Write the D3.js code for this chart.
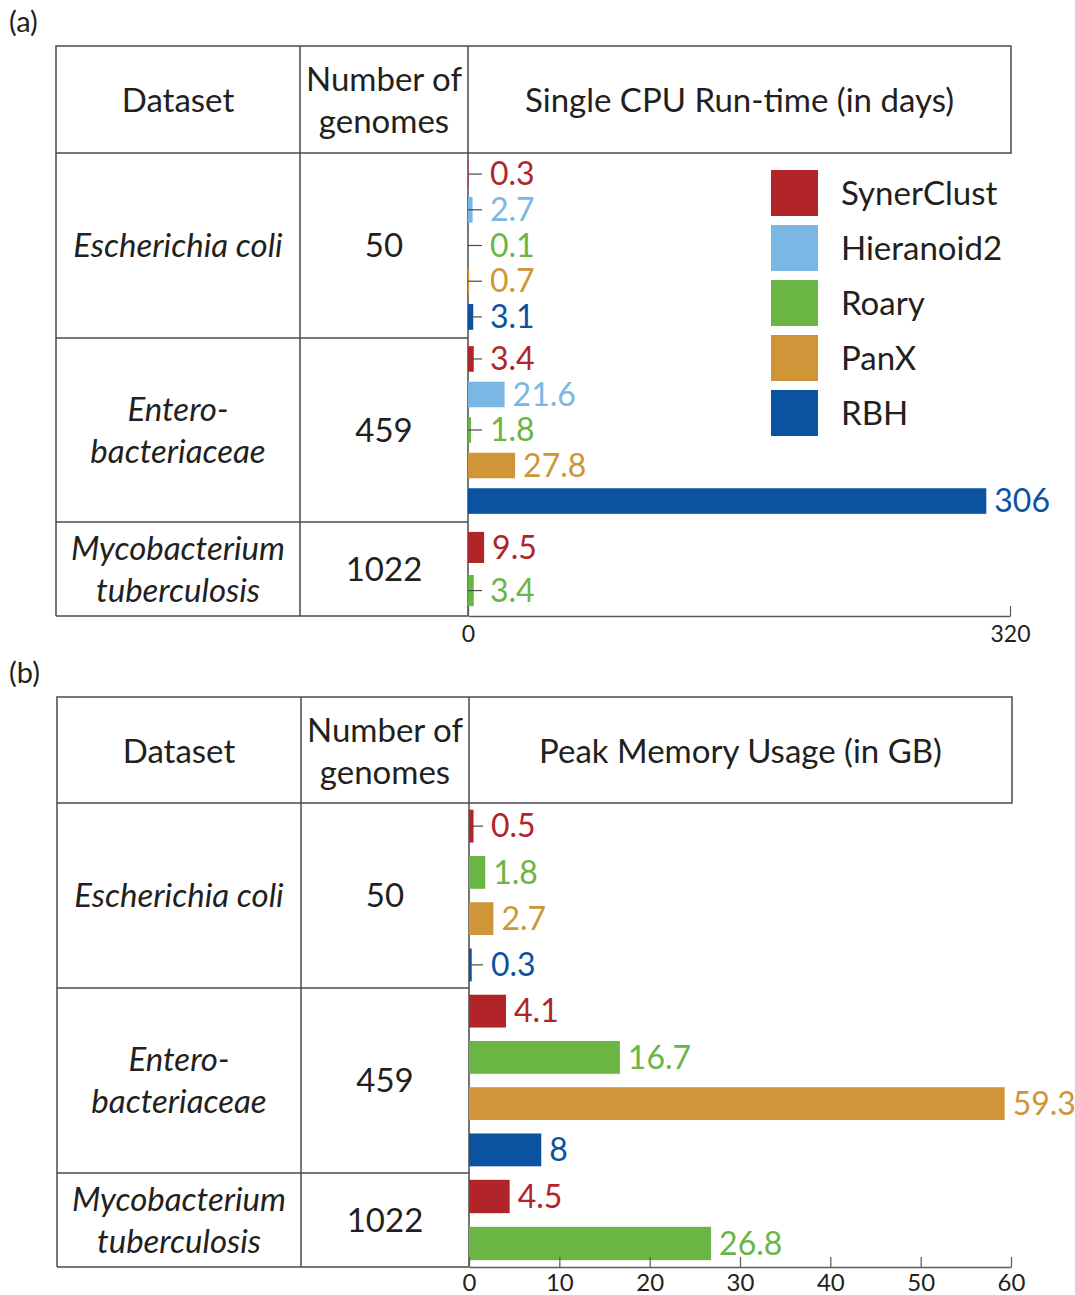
<!DOCTYPE html>
<html>
<head>
<meta charset="utf-8">
<script src="https://cdn.jsdelivr.net/npm/d3@7"></script>
<style>
  body { margin: 0; background: #fff; }
  svg text { font-family: "Lato", "Open Sans", sans-serif; fill: #231f20; }
</style>
</head>
<body>
<div id="chart"></div>
<script>
// data
var series = ["SynerClust", "Hieranoid2", "Roary", "PanX", "RBH"];
var seriesColors = ["#b12427", "#7ab7e4", "#6bb545", "#d09538", "#0b52a0"];
var datasetLines = [["Escherichia coli"], ["Entero-", "bacteriaceae"], ["Mycobacterium", "tuberculosis"]];
var genomes = [50, 459, 1022];

// per dataset, in series order (null = not run)
var runtimeDays = [
    [0.3, 2.7, 0.1, 0.7, 3.1],
    [3.4, 21.6, 1.8, 27.8, 306],
    [9.5, null, 3.4, null, null]
];
var peakMemoryGB = [
    [0.5, null, 1.8, 2.7, 0.3],
    [4.1, null, 16.7, 59.3, 8],
    [4.5, null, 26.8, null, null]
];
var runtimeTicks = [0, 320];
var memoryTicks = [0, 10, 20, 30, 40, 50, 60];

var svg = d3.select("#chart").append("svg")
    .attr("width", 1075)
    .attr("height", 1295);

var lineColor = "#4a4a4a";
var bigFont = "33px";

function drawPanel(opts) {
    var g = svg.append("g").attr("class", "panel");
    var top = opts.top, left = opts.left, c1 = opts.c1, c2 = opts.c2, right = opts.right;
    var headerBottom = top + opts.headerH;

    // row boundaries
    var rowEdges = [headerBottom];
    opts.rowH.forEach(function(h) { rowEdges.push(rowEdges[rowEdges.length - 1] + h) });
    var bottom = rowEdges[rowEdges.length - 1];

    var x = d3.scaleLinear().domain(opts.domain).range([c2, opts.xEnd]);

    // panel letter
    g.append("text").attr("x", 9).attr("y", top - 14)
        .style("font-size", "29px").text(opts.letter);

    // header box
    g.append("rect").attr("x", left).attr("y", top)
        .attr("width", right - left).attr("height", opts.headerH)
        .attr("fill", "none").attr("stroke", lineColor).attr("stroke-width", 1.5);

    // table lines
    var lines = [
        [left, headerBottom, left, bottom],
        [c1, top, c1, bottom],
        [c2, top, c2, bottom],
        [left, bottom, c2, bottom]
    ];
    rowEdges.slice(1, -1).forEach(function(y) { lines.push([left, y, c2, y]) });
    g.selectAll("line.grid").data(lines).enter().append("line")
        .attr("class", "grid")
        .attr("x1", function(d) { return d[0] }).attr("y1", function(d) { return d[1] })
        .attr("x2", function(d) { return d[2] }).attr("y2", function(d) { return d[3] })
        .attr("stroke", lineColor).attr("stroke-width", 1.5);

    // header texts
    var hy = top + opts.headerH / 2 + 1;
    g.append("text").attr("x", (left + c1) / 2).attr("y", hy).attr("dy", "0.35em")
        .attr("text-anchor", "middle").style("font-size", bigFont).text("Dataset");
    g.append("text").attr("x", (c1 + c2) / 2).attr("y", hy - 21).attr("dy", "0.35em")
        .attr("text-anchor", "middle").style("font-size", bigFont).text("Number of");
    g.append("text").attr("x", (c1 + c2) / 2).attr("y", hy + 21).attr("dy", "0.35em")
        .attr("text-anchor", "middle").style("font-size", bigFont).text("genomes");
    g.append("text").attr("x", (c2 + right) / 2).attr("y", hy).attr("dy", "0.35em")
        .attr("text-anchor", "middle").style("font-size", bigFont).text(opts.title);

    // rows
    opts.values.forEach(function(vals, i) {
        var y0 = rowEdges[i], y1 = rowEdges[i + 1], cy = (y0 + y1) / 2;
        var names = datasetLines[i];
        names.forEach(function(t, k) {
            g.append("text").attr("x", (left + c1) / 2)
                .attr("y", cy + (k - (names.length - 1) / 2) * 42).attr("dy", "0.35em")
                .attr("text-anchor", "middle").style("font-size", bigFont)
                .style("font-style", "italic").text(t);
        });
        g.append("text").attr("x", (c1 + c2) / 2).attr("y", cy).attr("dy", "0.35em")
            .attr("text-anchor", "middle").style("font-size", bigFont).text(genomes[i]);

        var bars = [];
        vals.forEach(function(v, s) { if (v !== null) bars.push({ s: s, v: v }) });

        var y = d3.scaleBand().domain(bars.map(function(d) { return d.s }))
            .range([y0, y1]).paddingInner(opts.padIn).paddingOuter(opts.padOut);

        var bg = g.append("g").attr("class", "bars");
        bg.selectAll("rect").data(bars).enter().append("rect")
            .attr("x", x(0))
            .attr("y", function(d) { return y(d.s) })
            .attr("width", function(d) { return x(d.v) - x(0) })
            .attr("height", y.bandwidth())
            .attr("fill", function(d) { return seriesColors[d.s] });

        // leader lines for tiny bars
        var small = bars.filter(function(d) { return x(d.v) - x(0) < 10 });
        bg.selectAll("line").data(small).enter().append("line")
            .attr("x1", x(0)).attr("x2", x(0) + 14)
            .attr("y1", function(d) { return y(d.s) + y.bandwidth() / 2 })
            .attr("y2", function(d) { return y(d.s) + y.bandwidth() / 2 })
            .attr("stroke", lineColor).attr("stroke-width", 1.2);

        bg.selectAll("text").data(bars).enter().append("text")
            .attr("x", function(d) {
                var w = x(d.v) - x(0);
                return w < 10 ? x(0) + 22 : x(d.v) + 8;
            })
            .attr("y", function(d) { return y(d.s) + y.bandwidth() / 2 })
            .attr("dy", "0.35em")
            .style("font-size", "32px")
            .style("fill", function(d) { return seriesColors[d.s] })
            .text(function(d) { return d.v });
    });

    // axis
    var axis = d3.axisBottom(x).tickValues(opts.ticks)
        .tickSizeInner(-10).tickSizeOuter(0).tickPadding(opts.tickPad);
    var ag = g.append("g").attr("transform", "translate(0," + bottom + ")").call(axis);
    ag.select(".domain").attr("stroke", "#5a5a5a").attr("stroke-width", 1.5);
    ag.selectAll(".tick line").attr("stroke", "#5a5a5a").attr("stroke-width", 1.2);
    ag.selectAll(".tick text").style("font-size", opts.tickFont + "px")
        .style("font-family", "Lato, sans-serif").attr("fill", "#231f20");

    return g;
}

drawPanel({
    letter: "(a)", top: 46, headerH: 107, rowH: [185, 184, 94],
    left: 56, c1: 300, c2: 468, right: 1011, xEnd: 1010,
    domain: [0, 320], ticks: runtimeTicks, tickFont: 23, tickPad: 10,
    title: "Single CPU Run-time (in days)",
    values: runtimeDays, padIn: 0.28, padOut: 0.23
});

drawPanel({
    letter: "(b)", top: 697, headerH: 106, rowH: [185, 185, 94],
    left: 57, c1: 301, c2: 469, right: 1012, xEnd: 1011,
    domain: [0, 60], ticks: memoryTicks, tickFont: 24, tickPad: 7,
    title: "Peak Memory Usage (in GB)",
    values: peakMemoryGB, padIn: 0.29, padOut: 0.145
});

// legend (panel a)
var legend = svg.append("g").attr("class", "legend")
    .attr("transform", "translate(771,170)");
var li = legend.selectAll("g").data(series).enter().append("g")
    .attr("transform", function(d, i) { return "translate(0," + (i * 55) + ")" });
li.append("rect").attr("width", 47).attr("height", 46)
    .attr("fill", function(d, i) { return seriesColors[i] });
li.append("text").attr("x", 70).attr("y", 23).attr("dy", "0.35em")
    .style("font-size", bigFont).text(function(d) { return d });
</script>
</body>
</html>
